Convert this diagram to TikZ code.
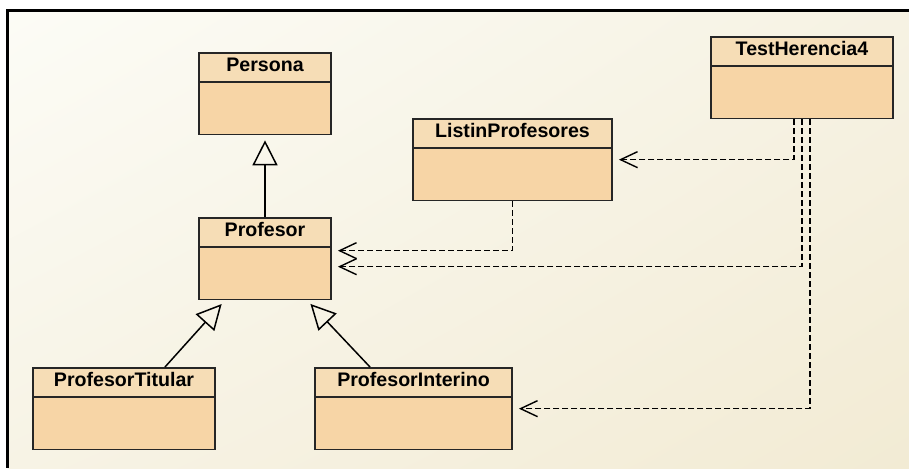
\documentclass[tikz,border=0pt]{standalone}
\usepackage{fontspec}
\setmainfont{Liberation Sans}
\usepackage{tikz}
\usetikzlibrary{arrows.meta,shapes.multipart,shadings}
\definecolor{peach}{RGB}{247,213,166}
\definecolor{peachhd}{RGB}{246,221,182}
\definecolor{bgul}{RGB}{252,252,246}
\definecolor{bgur}{RGB}{246,242,227}
\definecolor{bgll}{RGB}{247,243,229}
\definecolor{bglr}{RGB}{242,235,212}

\begin{document}
\begin{tikzpicture}[x=0.5pt, y=-0.5pt,
    cls/.style={rectangle split, rectangle split parts=2, draw=black!85,
                rectangle split part fill={peachhd,peach}, line width=0.9pt,
                inner ysep=1pt, anchor=north,
                font=\bfseries\fontsize{9.8}{11.5}\selectfont,
                execute at begin node=\strut},
    gen/.style={-{Triangle[open,length=12.5pt,width=12.5pt]}, line width=0.75pt,
                shorten >=2.5pt},
    dep/.style={-{Straight Barb[length=8.5pt,width=8pt]}, line width=0.7pt,
                dash pattern=on 3pt off 1.5pt, shorten >=3pt},
]
% === Background and frame ===
\useasboundingbox (0,0) rectangle (909,468);
\fill[white] (0,0) rectangle (909,468);
\shade[upper left=bgul, upper right=bgur, lower left=bgll, lower right=bglr]
    (7.5,10.5) rectangle (909,468);
\draw[line width=1.5pt] (909,10.5) -| (7.5,468);

% === Classes ===
\node[cls, minimum width=66pt] at (265,52) (persona) {Persona \nodepart{two}\rule{0pt}{20pt}};
\node[cls, minimum width=66pt] at (265,217) (profesor) {Profesor \nodepart{two}\rule{0pt}{20pt}};
\node[cls, minimum width=99.5pt] at (512.5,118) (listin) {ListinProfesores \nodepart{two}\rule{0pt}{20pt}};
\node[cls, minimum width=91pt] at (802,36) (test) {TestHerencia4 \nodepart{two}\rule{0pt}{20pt}};
\node[cls, minimum width=91pt] at (124,367) (titular) {ProfesorTitular \nodepart{two}\rule{0pt}{20pt}};
\node[cls, minimum width=98.5pt] at (413.5,367) (interino) {ProfesorInterino \nodepart{two}\rule{0pt}{20pt}};

% --- Inheritance ---
\draw[gen] (profesor.north) -- (persona.south);
\draw[gen] ([xshift=20.5pt]titular.north) -- ([xshift=-20pt]profesor.south);
\draw[gen] ([xshift=-21.75pt]interino.north) -- ([xshift=21pt]profesor.south);

% --- Dependencies ---
\draw[dep] (listin.south) |- ([yshift=4pt]profesor.east);
\draw[dep] ([xshift=-4pt]test.south) |- (listin.east);
\draw[dep] (test.south) |- ([yshift=-4pt]profesor.east);
\draw[dep] ([xshift=4pt]test.south) |- (interino.east);

\end{tikzpicture}
\end{document}
